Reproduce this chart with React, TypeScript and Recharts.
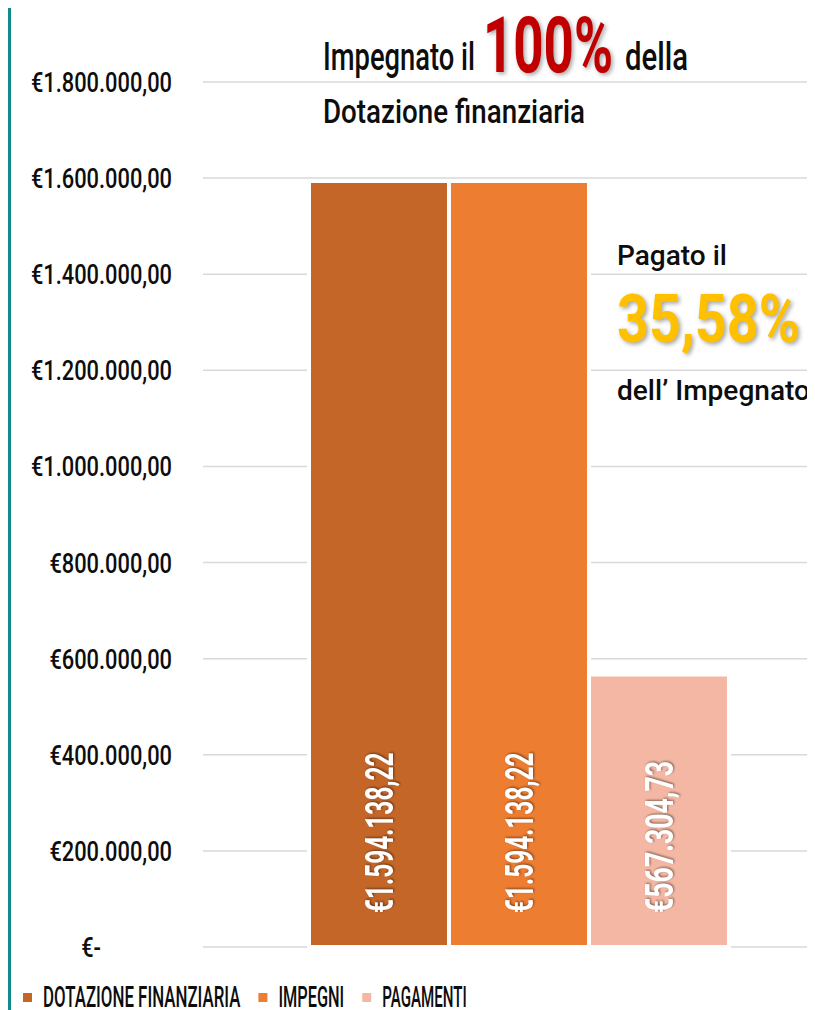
import { BarChart, Bar, XAxis, YAxis, CartesianGrid, Legend, LabelList } from "recharts";

// data
const categories = ["DOTAZIONE FINANZIARIA", "IMPEGNI", "PAGAMENTI"];
const seriesKeys = ["dotazione", "impegni", "pagamenti"];
const values = [1594138.22, 1594138.22, 567304.73];
const colors = ["#C46628", "#ED7D31", "#F4B7A3"];
const yTicks = [0, 200000, 400000, 600000, 800000, 1000000, 1200000, 1400000, 1600000, 1800000];

const row: Record<string, number | string> = { name: "" };
seriesKeys.forEach((k, i) => (row[k] = values[i]));
const data = [row];

const FONT = "Roboto, 'Liberation Sans Narrow', sans-serif";

const fmt = (v: number) => {
  const [i, d] = v.toFixed(2).split(".");
  return i.replace(/\B(?=(\d{3})+(?!\d))/g, ".") + "," + d;
};

// rough width of the condensed bold label font (narrow "1", thin punctuation)
const labelWidth = (s: string) =>
  s.split("").reduce((w, c) => w + (c === "1" ? 9 : c === "." || c === "," ? 6 : c === "€" ? 16 : 15.5), 0);

const YTick = (props: any) => {
  const { x, y, payload } = props;
  const zero = payload.value === 0;
  const label = zero ? "€-" : "€" + fmt(payload.value);
  return (
    <g transform={`translate(${zero ? x - 71 : x},${y}) scale(0.78,1)`}>
      <text x={0} y={0} dy={10} textAnchor="end" fontSize={28} fontWeight={500} fontFamily={FONT} fill="#0d0d0d">
        {label}
      </text>
    </g>
  );
};

const BarValue = (props: any) => {
  const { x, y, width, height, value } = props;
  const cx = x + width / 2;
  const by = y + height - 34;
  const label = "€" + fmt(value);
  return (
    <g transform={`translate(${cx},${by}) rotate(-90)`}>
      <text
        x={0}
        y={0}
        dy="0.36em"
        textAnchor="start"
        fontSize={38}
        fontWeight="bold"
        fontFamily={FONT}
        fill="#fff"
        textLength={labelWidth(label)}
        lengthAdjust="spacingAndGlyphs"
        style={{ filter: "drop-shadow(1px 1px 1px rgba(0,0,0,0.45))" }}
      >
        {label}
      </text>
    </g>
  );
};

const LegendBox = () => {
  let cur = 12;
  const items = categories.map((c, i) => {
    const sq = cur;
    const tx = sq + 20;
    const w = c.length * 9.4;
    cur = tx + w + 18;
    return (
      <g key={c}>
        <rect x={sq} y={46} width={9} height={9} fill={colors[i]} />
        <text x={tx} y={60} fontSize={30} fontWeight={500} fontFamily={FONT} fill="#0d0d0d" textLength={w} lengthAdjust="spacingAndGlyphs">
          {c}
        </text>
      </g>
    );
  });
  return (
    <svg width={804} height={63} style={{ display: "block", overflow: "visible" }}>
      {items}
    </svg>
  );
};

const txt = { fontFamily: FONT, fontWeight: 500, fill: "#0d0d0d" };

export default function App() {
  return (
    <div
      style={{
        position: "relative",
        top: -8,
        width: 804,
        height: 1010,
        borderLeft: "3px solid #12898A",
        background: "#fff",
      }}
    >
      <BarChart
        width={804}
        height={1010}
        data={data}
        margin={{ top: 82, right: 0, bottom: 0, left: 0 }}
        barSize={140}
        barGap={0}
      >
        <CartesianGrid vertical={false} stroke="#D9D9D9" strokeWidth={1.5} />
        <XAxis dataKey="name" hide padding={{ left: 19, right: 0 }} />
        <YAxis
          width={192}
          domain={[0, 1800000]}
          ticks={yTicks}
          axisLine={false}
          tickLine={false}
          tickMargin={25}
          tick={<YTick />}
        />
        <Legend verticalAlign="bottom" align="left" height={63} content={() => <LegendBox />} />
        {seriesKeys.map((k, i) => (
          <Bar key={k} dataKey={k} name={categories[i]} fill={colors[i]} stroke="#fff" strokeWidth={4} isAnimationActive={false}>
            <LabelList dataKey={k} content={<BarValue />} />
          </Bar>
        ))}
      </BarChart>
      <svg width={804} height={1010} style={{ position: "absolute", left: 0, top: 0, pointerEvents: "none" }}>
        <text x={312} y={70} fontSize={38} {...txt} textLength={152} lengthAdjust="spacingAndGlyphs">Impegnato il</text>
        <text
          x={472}
          y={72}
          fontSize={77}
          fontWeight="bold"
          fontFamily={FONT}
          fill="#C00000"
          textLength={130}
          lengthAdjust="spacingAndGlyphs"
          style={{ filter: "drop-shadow(2px 2px 2px rgba(0,0,0,0.35))" }}
        >
          100%
        </text>
        <text x={614} y={70} fontSize={38} {...txt} textLength={63} lengthAdjust="spacingAndGlyphs">della</text>
        <text x={312} y={123} fontSize={33} {...txt} textLength={262} lengthAdjust="spacingAndGlyphs">Dotazione finanziaria</text>
        <text x={606} y={265} fontSize={28} {...txt} textLength={110} lengthAdjust="spacingAndGlyphs">Pagato il</text>
        <text
          x={606}
          y={342}
          fontSize={66}
          fontWeight="bold"
          fontFamily={FONT}
          fill="#FFC000"
          textLength={183}
          lengthAdjust="spacingAndGlyphs"
          style={{ filter: "drop-shadow(2px 2px 2px rgba(0,0,0,0.35))" }}
        >
          35,58%
        </text>
        <text x={606} y={400} fontSize={28} {...txt} textLength={193} lengthAdjust="spacingAndGlyphs">dell’ Impegnato</text>
      </svg>
    </div>
  );
}
